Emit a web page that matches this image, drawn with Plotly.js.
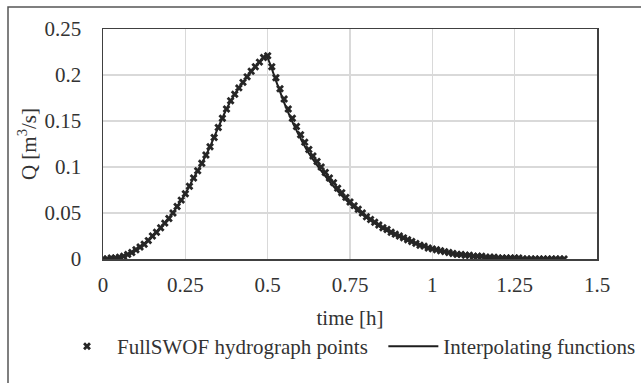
<!DOCTYPE html>
<html>
<head>
<meta charset="utf-8">
<script src="https://cdn.plot.ly/plotly-3.0.1.min.js"></script>
<style>
  html, body { margin: 0; padding: 0; background: #ffffff; }
  #chart { width: 641px; height: 383px; }
</style>
</head>
<body>
<div id="chart"></div>
<script>
// FullSWOF hydrograph points (time in h, Q in m3/s)
const pointTime = [
  0.0000, 0.0125, 0.0250, 0.0375, 0.0500, 0.0625, 0.0750, 0.0875, 0.1000, 0.1125,
  0.1250, 0.1375, 0.1500, 0.1625, 0.1750, 0.1875, 0.2000, 0.2125, 0.2250, 0.2375,
  0.2500, 0.2625, 0.2750, 0.2875, 0.3000, 0.3125, 0.3250, 0.3375, 0.3500, 0.3625,
  0.3750, 0.3875, 0.4000, 0.4125, 0.4250, 0.4375, 0.4500, 0.4625, 0.4750, 0.4875,
  0.5000, 0.5125, 0.5250, 0.5375, 0.5500, 0.5625, 0.5750, 0.5875, 0.6000, 0.6125,
  0.6250, 0.6375, 0.6500, 0.6625, 0.6750, 0.6875, 0.7000, 0.7125, 0.7250, 0.7375,
  0.7500, 0.7625, 0.7750, 0.7875, 0.8000, 0.8125, 0.8250, 0.8375, 0.8500, 0.8625,
  0.8750, 0.8875, 0.9000, 0.9125, 0.9250, 0.9375, 0.9500, 0.9625, 0.9750, 0.9875,
  1.0000, 1.0125, 1.0250, 1.0375, 1.0500, 1.0625, 1.0750, 1.0875, 1.1000, 1.1125,
  1.1250, 1.1375, 1.1500, 1.1625, 1.1750, 1.1875, 1.2000, 1.2125, 1.2250, 1.2375,
  1.2500, 1.2625, 1.2750, 1.2875, 1.3000, 1.3125, 1.3250, 1.3375, 1.3500, 1.3625,
  1.3750, 1.3875, 1.4000
];
const pointQ = [
  0.000, 0.000, 0.001, 0.001, 0.002, 0.003, 0.005, 0.007, 0.010, 0.013,
  0.016, 0.020, 0.025, 0.029, 0.034, 0.039, 0.044, 0.050, 0.057, 0.064,
  0.071, 0.079, 0.088, 0.096, 0.104, 0.113, 0.122, 0.132, 0.143, 0.153,
  0.163, 0.172, 0.179, 0.186, 0.192, 0.198, 0.204, 0.209, 0.214, 0.219,
  0.221, 0.209, 0.197, 0.185, 0.174, 0.163, 0.153, 0.144, 0.135, 0.127,
  0.119, 0.112, 0.106, 0.100, 0.094, 0.088, 0.083, 0.077, 0.072, 0.067,
  0.062, 0.058, 0.054, 0.050, 0.046, 0.043, 0.040, 0.037, 0.034, 0.032,
  0.029, 0.027, 0.025, 0.023, 0.021, 0.019, 0.017, 0.015, 0.014, 0.012,
  0.011, 0.010, 0.009, 0.008, 0.007, 0.006, 0.005, 0.005, 0.004, 0.004,
  0.003, 0.003, 0.003, 0.002, 0.002, 0.002, 0.001, 0.001, 0.001, 0.001,
  0.001, 0.001, 0.000, 0.000, 0.000, 0.000, 0.000, 0.000, 0.000, 0.000,
  0.000, 0.000, 0.000
];

// Interpolating functions
const lineTime = [
  0.000, 0.025, 0.050, 0.075, 0.100, 0.125, 0.150, 0.175, 0.200, 0.225,
  0.250, 0.275, 0.300, 0.325, 0.350, 0.375, 0.400, 0.425, 0.450, 0.475,
  0.495, 0.525, 0.550, 0.575, 0.600, 0.625, 0.650, 0.675, 0.700, 0.725,
  0.750, 0.775, 0.800, 0.825, 0.850, 0.875, 0.900, 0.925, 0.950, 0.975,
  1.000, 1.025, 1.050, 1.075, 1.100, 1.125, 1.150, 1.175, 1.200, 1.225,
  1.250, 1.275, 1.300, 1.325, 1.350, 1.375, 1.400
];
const lineQ = [
  0.000, 0.001, 0.002, 0.005, 0.010, 0.016, 0.025, 0.034, 0.044, 0.057,
  0.071, 0.088, 0.104, 0.122, 0.143, 0.163, 0.179, 0.192, 0.204, 0.214,
  0.221, 0.194, 0.170, 0.149, 0.131, 0.115, 0.102, 0.090, 0.079, 0.069,
  0.060, 0.052, 0.045, 0.039, 0.033, 0.028, 0.024, 0.020, 0.017, 0.014,
  0.011, 0.009, 0.007, 0.005, 0.004, 0.003, 0.002, 0.002, 0.001, 0.001,
  0.001, 0.000, 0.000, 0.000, 0.000, 0.000, 0.000
];

const xTicks = [0, 0.25, 0.5, 0.75, 1, 1.25, 1.5];
const xTickText = ['0', '0.25', '0.5', '0.75', '1', '1.25', '1.5'];
const yTicks = [0, 0.05, 0.1, 0.15, 0.2, 0.25];
const yTickText = ['0', '0.05', '0.1', '0.15', '0.2', '0.25'];

const seriesNames = ['FullSWOF hydrograph points', 'Interpolating functions'];

const FONT = 'Liberation Serif, Times New Roman, serif';
const TXT = '#333333';
const FS = 21;

const traces = [
  {
    x: lineTime, y: lineQ, type: 'scatter', mode: 'lines',
    name: seriesNames[1],
    line: { color: '#1e1e1e', width: 2, shape: 'spline', smoothing: 0.6 },
    legendrank: 2
  },
  {
    x: pointTime, y: pointQ, type: 'scatter', mode: 'markers',
    name: seriesNames[0] + '\u00a0\u00a0',
    marker: { symbol: 'x', size: 7, color: '#262626', line: { width: 0 } },
    legendrank: 1
  }
];

const layout = {
  width: 641, height: 383,
  margin: { l: 103, r: 44, t: 29, b: 124, pad: 0 },
  paper_bgcolor: '#ffffff',
  plot_bgcolor: '#ffffff',
  font: { family: FONT, size: FS, color: TXT },
  showlegend: true,
  legend: {
    orientation: 'h',
    x: -0.091, xanchor: 'left',
    y: -0.381, yanchor: 'middle',
    font: { family: FONT, size: FS, color: TXT },
    bgcolor: 'rgba(0,0,0,0)',
    itemwidth: 50,
    traceorder: 'normal'
  },
  xaxis: {
    range: [0, 1.5],
    tickvals: xTicks, ticktext: xTickText,
    showgrid: true, gridcolor: '#d9d9d9', gridwidth: 1.5,
    zeroline: false,
    showline: true, linecolor: '#404040', linewidth: 1.5, mirror: true,
    ticks: '', ticklabelstandoff: 6,
    tickfont: { family: FONT, size: FS, color: TXT },
    title: { text: 'time [h]', font: { family: FONT, size: FS, color: TXT }, standoff: 14 }
  },
  yaxis: {
    range: [0, 0.25],
    tickvals: yTicks, ticktext: yTickText,
    showgrid: true, gridcolor: '#d9d9d9', gridwidth: 1.5,
    zeroline: false,
    showline: true, linecolor: '#404040', linewidth: 1.5, mirror: true,
    ticks: '', ticklabelstandoff: 16,
    tickfont: { family: FONT, size: FS, color: TXT },
    title: { text: 'Q [m<sup>3</sup>/s]', font: { family: FONT, size: FS, color: TXT }, standoff: 2 }
  },
  shapes: [
    {
      type: 'rect', xref: 'paper', yref: 'paper',
      x0: -0.1923, x1: 1.4, y0: -0.8, y1: 1.0957,
      line: { color: '#555555', width: 1.5 }, fillcolor: 'rgba(0,0,0,0)', layer: 'below'
    }
  ]
};

Plotly.newPlot('chart', traces, layout, { displayModeBar: false, staticPlot: true });
</script>
</body>
</html>
